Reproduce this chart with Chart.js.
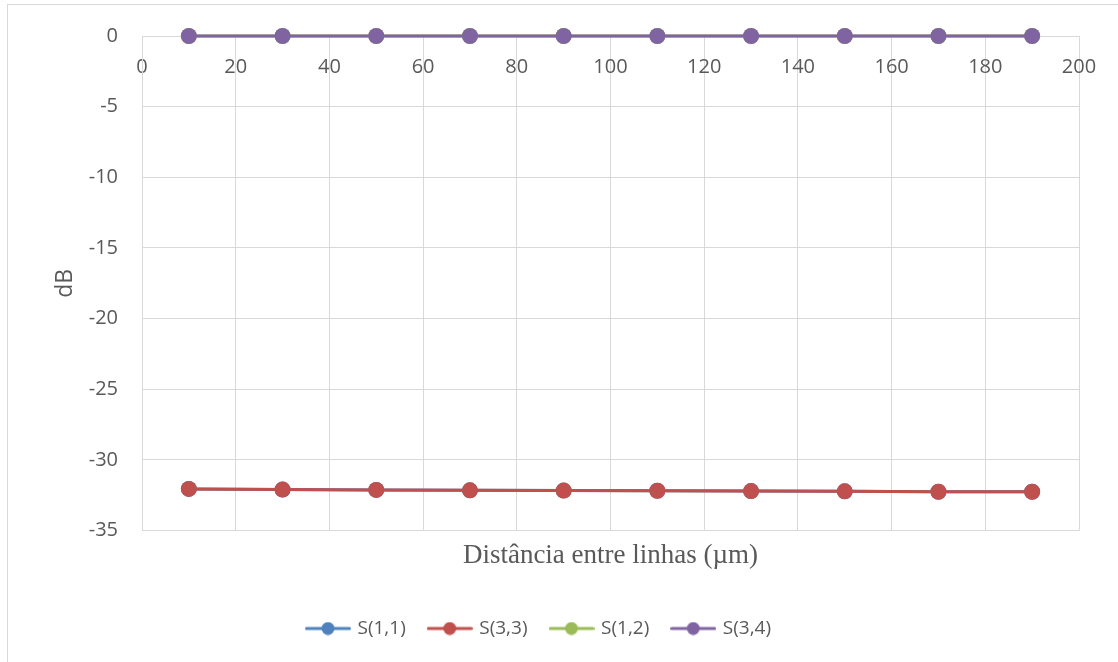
<!DOCTYPE html>
<html>
<head>
<meta charset="utf-8">
<script src="https://cdn.jsdelivr.net/npm/chart.js@4"></script>
<style>
  html, body { margin: 0; padding: 0; background: #fff; overflow: hidden; }
  #frame { position: absolute; left: 7px; top: 4px; width: 1200px; height: 700px; border: 1px solid #d9d9d9; }
  #wrap { position: absolute; left: 0; top: 0; width: 1118px; height: 662px; }
</style>
</head>
<body>
<div id="frame"></div>
<div id="wrap"><canvas id="chart" width="1118" height="662"></canvas></div>
<script>
// distance between lines (µm)
const distances = [10, 30, 50, 70, 90, 110, 130, 150, 170, 190];

// S-parameters in dB
const s11 = [-32.05, -32.1, -32.12, -32.15, -32.17, -32.18, -32.2, -32.22, -32.25, -32.25];
const s33 = [-32.05, -32.1, -32.12, -32.15, -32.17, -32.18, -32.2, -32.22, -32.25, -32.25];
const s12 = [0, 0, 0, 0, 0, 0, 0, 0, 0, 0];
const s34 = [0, 0, 0, 0, 0, 0, 0, 0, 0, 0];

const seriesNames = ['S(1,1)', 'S(3,3)', 'S(1,2)', 'S(3,4)'];
const seriesColors = ['#4F81BD', '#C0504D', '#9BBB59', '#8064A2'];
const seriesValues = [s11, s33, s12, s34];

const textColor = '#595959';
const gridColor = '#d9d9d9';

// little line-with-dot marker for the legend
function legendIcon(color) {
    const c = document.createElement('canvas');
    c.width = 46;
    c.height = 14;
    const ctx = c.getContext('2d');
    ctx.strokeStyle = color;
    ctx.lineWidth = 3;
    ctx.lineCap = 'round';
    ctx.beginPath();
    ctx.moveTo(1.5, 7);
    ctx.lineTo(44.5, 7);
    ctx.stroke();
    ctx.fillStyle = color;
    ctx.beginPath();
    ctx.arc(23, 7, 6.5, 0, Math.PI * 2);
    ctx.fill();
    return c;
}
const icons = seriesColors.map(legendIcon);

const datasets = seriesNames.map((name, i) => ({
    label: name,
    data: distances.map((d, j) => ({ x: d, y: seriesValues[i][j] })),
    borderColor: seriesColors[i],
    backgroundColor: seriesColors[i],
    borderWidth: 3,
    pointRadius: 8,
    pointBorderWidth: 0,
    pointStyle: 'circle',
    order: seriesNames.length - i,
    clip: false,
    tension: 0
}));

new Chart(document.getElementById('chart'), {
    type: 'line',
    data: { datasets: datasets },
    options: {
        responsive: false,
        animation: false,
        devicePixelRatio: 1,
        layout: { padding: { top: 33, right: 39, left: 0, bottom: 14 } },
        plugins: {
            tooltip: { enabled: false },
            legend: {
                position: 'bottom',
                reverse: true,
                labels: {
                    usePointStyle: true,
                    pointStyleWidth: 40,
                    padding: 24,
                    color: textColor,
                    font: { family: 'Open Sans', size: 19 },
                    generateLabels(chart) {
                        const items = Chart.defaults.plugins.legend.labels.generateLabels(chart);
                        items.forEach(it => { it.pointStyle = icons[it.datasetIndex]; });
                        return items;
                    }
                }
            }
        },
        scales: {
            x: {
                type: 'linear',
                position: { y: 0 },
                min: 0,
                max: 200,
                ticks: {
                    stepSize: 20,
                    padding: 19,
                    color: textColor,
                    font: { family: 'Open Sans', size: 20 },
                    maxRotation: 0
                },
                grid: { color: gridColor, lineWidth: 1, drawTicks: false },
                border: { color: gridColor, width: 1 }
            },
            x2: {
                type: 'linear',
                position: 'bottom',
                min: 0,
                max: 200,
                ticks: { display: false },
                grid: { display: false, drawTicks: false },
                border: { display: false },
                title: {
                    display: true,
                    text: 'Distância entre linhas (µm)',
                    color: textColor,
                    font: { family: 'Liberation Serif', size: 27 },
                    padding: { top: 9, bottom: 23 }
                }
            },
            y: {
                type: 'linear',
                position: 'left',
                min: -35,
                max: 0,
                ticks: {
                    stepSize: 5,
                    padding: 24,
                    color: textColor,
                    font: { family: 'Open Sans', size: 20 }
                },
                grid: { color: gridColor, lineWidth: 1, drawTicks: false },
                border: { color: gridColor, width: 1 },
                title: {
                    display: true,
                    text: 'dB',
                    color: textColor,
                    font: { family: 'Open Sans', size: 23 },
                    padding: { top: 52, bottom: 0 }
                },
                afterFit(scale) { scale.width = 142; }
            }
        }
    }
});
</script>
</body>
</html>
